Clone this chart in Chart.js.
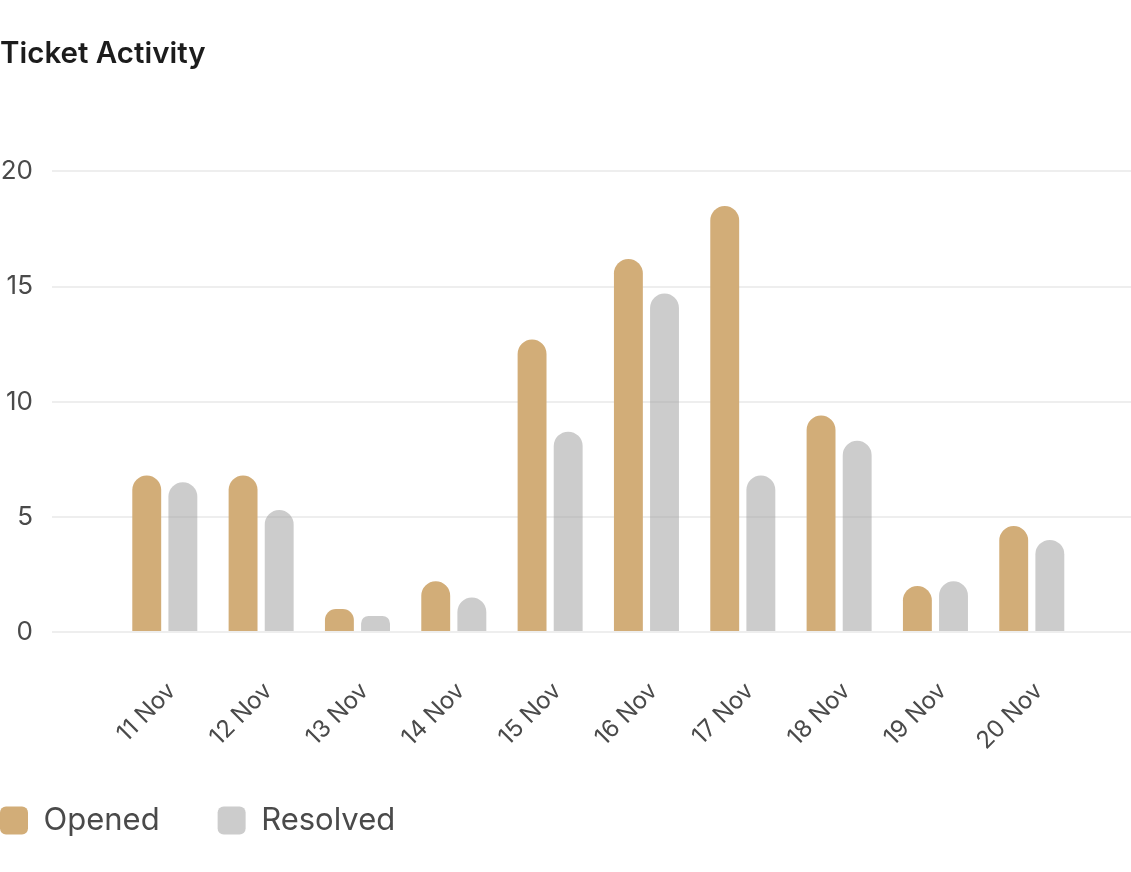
<!DOCTYPE html>
<html>
<head>
<meta charset="utf-8">
<script src="https://cdn.jsdelivr.net/npm/chart.js@4.4.1/dist/chart.umd.min.js"></script>
<style>
  html, body { margin: 0; padding: 0; background: #ffffff; }
  #wrap { position: relative; width: 1131px; height: 872px; }
</style>
</head>
<body>
<div id="wrap"><canvas id="chart"></canvas></div>
<script>
const categories = ['11 Nov', '12 Nov', '13 Nov', '14 Nov', '15 Nov', '16 Nov', '17 Nov', '18 Nov', '19 Nov', '20 Nov'];
const openedValues = [6.8, 6.8, 1.0, 2.2, 12.7, 16.2, 18.5, 9.4, 2.0, 4.6];
const resolvedValues = [6.5, 5.3, 0.7, 1.5, 8.7, 14.7, 6.8, 8.3, 2.2, 4.0];
const yTickValues = [0, 5, 10, 15, 20];
const seriesNames = ['Opened', 'Resolved'];

const FONT = 'Inter, "Noto Sans", sans-serif';
const TEXT = '#4a4a4a';

// shift the legend block so its first swatch sits flush left, just below the axis labels
const legendShift = {
  id: 'legendShift',
  afterLayout(chart, args, opts) {
    const l = chart.legend;
    if (!l) return;
    const p = l.options.labels.padding;
    l.left -= p;
    l.right -= p;
    l.top += opts.dy;
    l.bottom += opts.dy;
  }
};

const toPoints = vals => vals.map((v, i) => ({ x: i, y: v }));

new Chart(document.getElementById('chart'), {
  type: 'bar',
  data: {
    datasets: [
      {
        label: seriesNames[0],
        data: toPoints(openedValues),
        backgroundColor: '#d2ad78',
        borderRadius: 15,
        categoryPercentage: 0.75,
        barPercentage: 0.8
      },
      {
        label: seriesNames[1],
        data: toPoints(resolvedValues),
        backgroundColor: 'rgba(158,158,158,0.53)',
        borderRadius: 15,
        categoryPercentage: 0.75,
        barPercentage: 0.8
      }
    ]
  },
  options: {
    responsive: true,
    maintainAspectRatio: false,
    animation: false,
    layout: { padding: { left: 0, right: 0, top: 0, bottom: 16 } },
    plugins: {
      legendShift: { dy: -10 },
      title: {
        display: true,
        text: 'Ticket Activity',
        align: 'start',
        color: '#1c1c1c',
        font: { family: FONT, size: 29.5, weight: '600' },
        padding: { top: 36, bottom: 100 }
      },
      legend: {
        position: 'bottom',
        align: 'start',
        labels: {
          boxWidth: 28,
          boxHeight: 28,
          padding: 58,
          color: TEXT,
          font: { family: FONT, size: 31 },
          generateLabels(chart) {
            return chart.data.datasets.map((ds, i) => ({
              text: ds.label,
              fillStyle: ds.backgroundColor,
              strokeStyle: 'rgba(0,0,0,0)',
              lineWidth: 0,
              borderRadius: 6,
              fontColor: TEXT,
              hidden: false,
              datasetIndex: i
            }));
          }
        }
      },
      tooltip: { enabled: false }
    },
    scales: {
      x: {
        type: 'linear',
        min: -1.171,
        max: 10.03,
        offset: false,
        grid: { display: false, drawTicks: false },
        border: { display: false },
        afterBuildTicks(scale) {
          scale.ticks = categories.map((_, i) => ({ value: i }));
        },
        afterFit(scale) { scale.height = 125; },
        ticks: {
          autoSkip: false,
          minRotation: 45,
          maxRotation: 45,
          padding: 45,
          labelOffset: 7,
          color: TEXT,
          font: { family: FONT, size: 24 },
          callback: v => categories[v]
        }
      },
      y: {
        min: 0,
        max: 20,
        afterBuildTicks(scale) {
          scale.ticks = yTickValues.map(v => ({ value: v }));
        },
        afterFit(scale) { scale.width = 52; },
        grid: { color: '#eeeeee', lineWidth: 2, drawTicks: false },
        border: { display: false },
        ticks: {
          padding: 19,
          color: TEXT,
          font: { family: FONT, size: 26 }
        }
      }
    }
  },
  plugins: [legendShift]
});
</script>
</body>
</html>
